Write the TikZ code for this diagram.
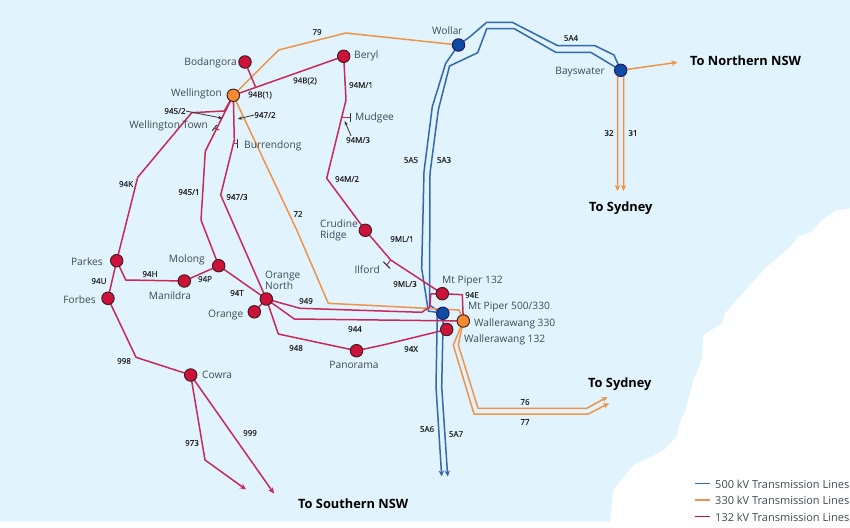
\documentclass[tikz,border=0pt]{standalone}
\usepackage{fontspec}
\setmainfont{Open Sans}
\newfontfamily\lblfont[FakeBold=0.35]{Open Sans}
\usetikzlibrary{arrows.meta,backgrounds}
\definecolor{seacol}{HTML}{E1F3FC}
\definecolor{redline}{HTML}{C62A5C}
\definecolor{orgline}{HTML}{EE9448}
\definecolor{blueline}{HTML}{3068B2}
\definecolor{txtcol}{HTML}{3F4A50}
\definecolor{rednode}{HTML}{CC1239}
\definecolor{orgnode}{HTML}{F58A32}
\definecolor{bluenode}{HTML}{0D4CA3}
\definecolor{rim}{HTML}{3A1A22}
\tikzset{
 x=1pt,y=-1pt,
 sub/.style={circle,draw=rim,line width=0.9pt,minimum size=12.5pt,inner sep=0pt},
 redsub/.style={sub,fill=rednode},
 orgsub/.style={sub,fill=orgnode},
 bluesub/.style={sub,fill=bluenode,draw=rim!70!blue},
 place/.style={text=txtcol,font=\fontsize{10.2}{11}\selectfont,inner sep=0pt,align=left,yshift=-0.7pt},
 legtext/.style={place,font=\fontsize{11}{12}\selectfont},
 dest/.style={text=black,font=\bfseries\fontsize{12.8}{14}\selectfont,inner sep=0pt,yshift=-0.7pt},
 lbl/.style={text=black!85,font=\lblfont\fontsize{8}{9}\selectfont,inner sep=0pt},
 r132/.style={draw=redline,line width=1.5pt,line join=round},
 o330/.style={draw=orgline,line width=1.5pt,line join=round},
 b500/.style={draw=blueline,line width=1.5pt,line join=round},
 tip/.style={-{Stealth[length=6pt,width=5.5pt]}},
 note/.style={draw=black!80,line width=0.8pt,-{Stealth[length=4.5pt,width=3.5pt]}},
 bar/.style={draw=black!80,line width=1pt},
}
\begin{document}
\begin{tikzpicture}
\useasboundingbox (0,0) rectangle (850,527);
% substations
\node[bluesub] (wollar) at (458.5,45) {};
\node[bluesub] (bays) at (620.7,70.3) {};
\node[redsub] (bodan) at (245,62) {};
\node[redsub] (beryl) at (343.7,56.3) {};
\node[orgsub] (well) at (233.3,95.3) {};
\node[redsub] (crud) at (365.3,230.3) {};
\node[redsub] (mp132) at (442.3,293.7) {};
\node[bluesub] (mp500) at (442.8,313.3) {};
\node[orgsub] (w330) at (463.3,321) {};
\node[redsub] (w132) at (446.7,329.5) {};
\node[redsub] (pan) at (356.5,350.7) {};
\node[redsub] (orn) at (266.3,299) {};
\node[redsub] (ora) at (254.3,311.8) {};
\node[redsub] (mol) at (218.7,265.7) {};
\node[redsub] (man) at (184.3,281) {};
\node[redsub] (par) at (116.7,260.7) {};
\node[redsub] (forb) at (108,298.3) {};
\node[redsub] (cow) at (190.7,375) {};
% free ends
\coordinate (s973) at (246,489.5);
\coordinate (s999) at (274,493.5);
\coordinate (s5a6) at (441.7,476.5);
\coordinate (s5a7) at (447.7,476.5);
\coordinate (n76) at (607.5,397);
\coordinate (n77) at (609,403.2);
\coordinate (nnsw) at (677.5,62.3);
\coordinate (s32) at (617.5,191);
\coordinate (s31) at (623.5,191);
% place names
\node[place,anchor=east] (tbod) at (237,62) {Bodangora};
\node[place,anchor=east] (twel) at (222,93.5) {Wellington};
\node[place,anchor=east] (twt) at (208,125.5) {Wellington Town};
\node[place,anchor=west] (tbur) at (244,145) {Burrendong};
\node[place,anchor=west] (tber) at (354,55) {Beryl};
\node[place,anchor=west] (tmud) at (355,117) {Mudgee};
\node[place,anchor=east] (tcru) at (358,230) {Crudine\\Ridge};
\node[place,anchor=east] (till) at (380,269) {Ilford};
\node[place,anchor=west] (tmp1) at (442,280) {Mt Piper 132};
\node[place,anchor=west] (tmp5) at (468,306) {Mt Piper 500/330};
\node[place,anchor=west] (tw33) at (474,323.5) {Wallerawang 330};
\node[place,anchor=west] (tw13) at (464,339.5) {Wallerawang 132};
\node[place] (tpan) at (354,364) {Panorama};
\node[place,anchor=west] (torn) at (265,280) {Orange\\North};
\node[place,anchor=east] (tora) at (243.5,314) {Orange};
\node[place,anchor=east] (tmol) at (205,259) {Molong};
\node[place] (tman) at (170,295) {Manildra};
\node[place,anchor=east] (tpar) at (103,260.5) {Parkes};
\node[place,anchor=east] (tfor) at (96,298.5) {Forbes};
\node[place,anchor=west] (tcow) at (202,374) {Cowra};
\node[place,anchor=west] (twol) at (432,30) {Wollar};
\node[place,anchor=east] (tbay) at (605,71) {Bayswater};
% destinations
\node[dest,anchor=west] (dn) at (690,60) {To Northern NSW};
\node[dest,anchor=west] (ds1) at (589,207) {To Sydney};
\node[dest,anchor=west] (ds2) at (588,383) {To Sydney};
\node[dest,anchor=west] (dss) at (298,503) {To Southern NSW};
% line labels
\node[lbl] (l79) at (317,32) {79};
\node[lbl] (l94b2) at (305,81) {94B(2)};
\node[lbl] (l94b1) at (260,95) {94B(1)};
\node[lbl] (l9452) at (175,111) {945/2};
\node[lbl] (l9472) at (265,115) {947/2};
\node[lbl] (l94k) at (126,184) {94K};
\node[lbl] (l9451) at (189,192) {945/1};
\node[lbl] (l9473) at (237,197) {947/3};
\node[lbl] (l94m1) at (361,85) {94M/1};
\node[lbl] (l94m3) at (358,140) {94M/3};
\node[lbl] (l94m2) at (347,179) {94M/2};
\node[lbl] (l72) at (298,214) {72};
\node[lbl] (l5a5) at (411,160) {5A5};
\node[lbl] (l5a3) at (444,160) {5A3};
\node[lbl] (l5a4) at (571,38) {5A4};
\node[lbl] (l32) at (609,133) {32};
\node[lbl] (l31) at (633,133) {31};
\node[lbl] (l9ml1) at (402,239) {9ML/1};
\node[lbl] (l9ml3) at (405,284) {9ML/3};
\node[lbl] (l94e) at (472,295) {94E};
\node[lbl] (l949) at (306,301) {949};
\node[lbl] (l944) at (355,329) {944};
\node[lbl] (l948) at (296,348) {948};
\node[lbl] (l94x) at (411,349) {94X};
\node[lbl] (l94h) at (150,274) {94H};
\node[lbl] (l94p) at (205,279) {94P};
\node[lbl] (l94t) at (237,293) {94T};
\node[lbl] (l94u) at (99,281) {94U};
\node[lbl] (l998) at (124,361) {998};
\node[lbl] (l973) at (192,443) {973};
\node[lbl] (l999) at (250,433) {999};
\node[lbl] (l5a6) at (427,429) {5A6};
\node[lbl] (l5a7) at (456,434) {5A7};
\node[lbl] (l76) at (525,402) {76};
\node[lbl] (l77) at (525,422) {77};
% legend
\node[legtext,anchor=west] (leg5) at (715,483.5) {500 kV Transmission Lines};
\node[legtext,anchor=west] (leg3) at (715,500) {330 kV Transmission Lines};
\node[legtext,anchor=west] (leg1) at (715,516.5) {132 kV Transmission Lines};
\coordinate (k5) at (694.5,483.5);
\coordinate (k3) at (694.5,500);
\coordinate (k1) at (694.5,516.5);
\draw[b500] (k5) -- ++(15.5,0);
\draw[o330] (k3) -- ++(15.5,0);
\draw[r132,draw=rednode] (k1) -- ++(15.5,0);
% notes
\draw[note] (l9452.east) -- (222.7,118.3);
\draw[note] (l9472.west) -- (237.7,119);
\draw[note] (l94m3.north) ++(-7,-1) -- (344.7,121);
\begin{pgfonlayer}{background}
\fill[seacol] (0,0) -- (850,0) -- (850,208.3) -- (835,210.7) -- (821.7,220) -- (811.7,231.7) -- (798,236.7) -- (790,246.7) -- (765,268.3) -- (750,285) -- (725,313.3) -- (721.7,323.3) -- (703.3,335) -- (701.7,360) -- (693.3,380) -- (685,411.7) -- (680,421) -- (676.7,436.7) -- (663.3,450) -- (648.3,458.3) -- (633.3,465) -- (613.3,490) -- (610,521.7) -- (0,521.7) -- cycle;
% 500 kV
\draw[b500] (wollar.center) -- (470,36.7) -- (486.7,22.3) -- (512.3,22.3) -- (557.7,45.7) -- (595,45.7) -- (614,55) -- (bays.center);
\draw[b500] (bays.center) -- (590.7,52.3) -- (555.7,52.3) -- (514.3,28.7) -- (486.7,28.7) -- (477.7,52.7) -- (449.5,66) -- (438.3,110) -- (430,173.3) -- (429.5,305) -- (436.7,310) -- (mp500.center);
\draw[b500] (wollar.center) -- (445.7,63.3) -- (432.3,106.7) -- (424,171.7) -- (421.7,268.3) -- (428.3,311) -- (mp500.center);
\draw[b500,tip] (mp500.center) ++(-5.5,0) -- (436,386.7) -- (s5a6);
\draw[b500,tip] (mp500.center) ++(0.5,0) -- (441.7,386.7) -- (s5a7);
% 330 kV
\draw[o330] (well.center) -- (278.7,50) -- (345.7,33) -- (wollar.center);
\draw[o330] (well.center) -- (296.7,230) -- (328.3,303.3) -- (426.7,308.3) -- (459,310) -- (w330.center);
\draw[o330,tip] (w330.center) -- (453.3,345) -- (474,414) -- (588.3,414) -- (n77);
\draw[o330,tip] (w330.center) -- (458.3,345) -- (478,408.3) -- (586.7,408.3) -- (n76);
\draw[o330,tip] (bays.center) -- (nnsw);
\draw[o330,tip] (bays.center) ++(-3,0) -- (s32);
\draw[o330,tip] (bays.center) ++(3,0) -- (s31);
% 132 kV
\draw[r132] (bodan.center) -- (255.7,87.3);
\draw[r132] (well.center) -- (beryl.center);
\draw[r132] (well.center) -- (224.3,111) -- (191.7,112.7) -- (137.7,177.3) -- (par.center);
\draw[r132] (well.center) -- (205.3,151.3) -- (201,220) -- (mol.center);
\draw[r132] (well.center) -- (234.3,140) -- (220.7,195) -- (orn.center);
\draw[r132] (beryl.center) -- (346,100) -- (326.7,178.3) -- (crud.center);
\draw[r132] (crud.center) -- (390.7,260) -- (mp132.center);
\draw[r132] (orn.center) -- (300,308.3) -- (421.7,312.3) -- (430,306.7) -- (430.7,294) -- (mp132.center);
\draw[r132] (mp132.center) -- (462.3,294.7) -- (w330.center);
\draw[r132] (orn.center) -- (294.3,319) -- (w330.center);
\draw[r132] (orn.center) -- (278.3,334) -- (pan.center);
\draw[r132] (pan.center) -- (383,345) -- (w132.center);
\draw[r132] (orn.center) -- (mol.center);
\draw[r132] (mol.center) -- (man.center);
\draw[r132] (man.center) -- (125.7,280) -- (par.center);
\draw[r132] (par.center) -- (forb.center);
\draw[r132] (forb.center) -- (136,357.3) -- (cow.center);
\draw[r132,tip] (cow.center) -- (205,460) -- (s973);
\draw[r132,tip] (cow.center) -- (s999);
\draw[r132,line width=1.2pt] ([xshift=-1.5pt,yshift=-1.5pt]orn.center) -- ([xshift=-1.5pt,yshift=-1.5pt]ora.center);
\draw[r132,line width=1.2pt] ([xshift=1.5pt,yshift=1.5pt]orn.center) -- ([xshift=1.5pt,yshift=1.5pt]ora.center);
% spurs
\draw[r132,line width=1.1pt] (219.3,130) -- (214.5,128.3);
\draw[bar] (212.3,130.7) -- (216.7,125);
\draw[r132,line width=1.1pt] (234.3,143.3) -- (237.7,143.3);
\draw[bar] (237.7,139) -- (237.7,148);
\draw[r132,line width=1.1pt] (342,117.3) -- (350.7,117.3);
\draw[bar] (350.7,113) -- (350.7,122);
\draw[r132,line width=1.1pt] (390.7,260) -- (386.7,265);
\draw[bar] (383.3,261.7) -- (390,268.3);
\end{pgfonlayer}
\end{tikzpicture}
\end{document}
